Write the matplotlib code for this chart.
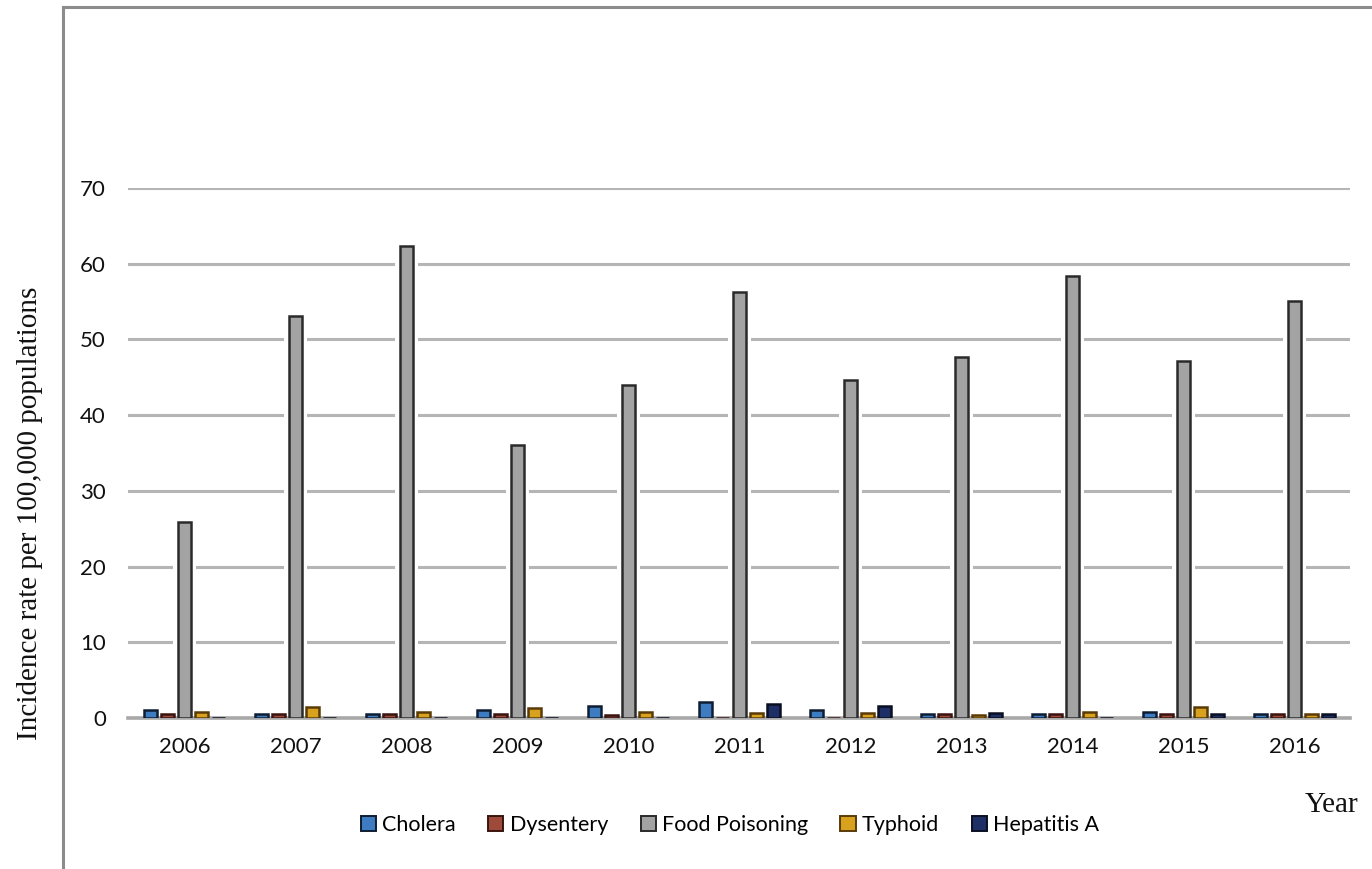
import matplotlib
matplotlib.use("Agg")
import matplotlib.pyplot as plt
import numpy as np
from matplotlib.lines import Line2D
from matplotlib.patches import Patch

years = ["2006", "2007", "2008", "2009", "2010", "2011", "2012", "2013", "2014", "2015", "2016"]
series_names = ["Cholera", "Dysentery", "Food Poisoning", "Typhoid", "Hepatitis A"]
cholera = [1.0, 0.5, 0.5, 1.0, 1.6, 2.1, 1.0, 0.5, 0.5, 0.8, 0.5]
dysentery = [0.5, 0.5, 0.5, 0.5, 0.4, 0.05, 0.05, 0.5, 0.5, 0.5, 0.5]
food_poisoning = [25.9, 53.1, 62.4, 36.0, 44.0, 56.2, 44.7, 47.7, 58.4, 47.2, 55.1]
typhoid = [0.8, 1.4, 0.8, 1.35, 0.8, 0.6, 0.6, 0.4, 0.8, 1.5, 0.5]
hepatitis_a = [0.05, 0.05, 0.05, 0.05, 0.05, 1.9, 1.6, 0.7, 0.05, 0.5, 0.5]
y_ticks = [0, 10, 20, 30, 40, 50, 60, 70]

values = [cholera, dysentery, food_poisoning, typhoid, hepatitis_a]
face = ["#3D7CC0", "#9E4A3A", "#A3A3A3", "#D9A21E", "#1E2F66"]
edge = ["#0F1D33", "#3A1410", "#2A2A2A", "#5A3B08", "#0A0F22"]

W, H = 1372, 869
fig = plt.figure(figsize=(W / 100, H / 100), dpi=100)
fig.patch.set_facecolor("white")

ax = fig.add_axes([128 / W, 1 - 718 / H, (1350 - 128) / W, (718 - 188) / H])
x = np.arange(len(years))
step = 0.152
bw = 0.118

# white halo behind the tall bars (breaks in gridlines like the original)
ax.bar(x, food_poisoning, width=bw + 0.09, color="white", zorder=2, linewidth=0)

for i, (vals, fc, ec) in enumerate(zip(values, face, edge)):
    ax.bar(x + (i - 2) * step, vals, width=bw, color=fc, edgecolor=ec,
           linewidth=1.8, zorder=3, label=series_names[i])

ax.set_xlim(-0.51, 10.5)
ax.set_ylim(0, 70)
ax.set_yticks(y_ticks)
ax.set_xticks(x)
ax.set_xticklabels(years)
ax.grid(axis="y", color="#B5B5B5", linewidth=2.2, zorder=1)
ax.set_axisbelow(True)
for s in ["top", "right", "left"]:
    ax.spines[s].set_visible(False)
ax.spines["bottom"].set_color("#A8A8A8")
ax.spines["bottom"].set_linewidth(2.6)
ax.spines["bottom"].set_zorder(2.5)
ax.tick_params(axis="both", length=0, labelsize=16, colors="#111111")
ax.tick_params(axis="y", pad=16)
ax.tick_params(axis="x", pad=14)
for lab in ax.get_xticklabels() + ax.get_yticklabels():
    lab.set_family("Lato")

# outer frame lines (top and left)
fig.add_artist(Line2D([63 / W, 1.0], [1 - 7 / H, 1 - 7 / H], color="#8C8C8C", linewidth=2.2))
fig.add_artist(Line2D([63 / W, 63 / W], [0, 1 - 7 / H], color="#8C8C8C", linewidth=2.2))

fig.text(30 / W, 1 - 513 / H, "Incidence rate per 100,000 populations", rotation=90,
         ha="center", va="center", family="Liberation Serif", fontsize=21, color="#111111")
fig.text(1332 / W, 1 - 805 / H, "Year", ha="center", va="center",
         family="Liberation Serif", fontsize=21, color="#111111")

handles = [Patch(facecolor=fc, edgecolor=ec, linewidth=1.4) for fc, ec in zip(face, edge)]
leg = fig.legend(handles, series_names, loc="center", bbox_to_anchor=(730 / W, 1 - 825 / H),
                 ncol=5, frameon=False, handlelength=0.7, handleheight=0.7,
                 handletextpad=0.3, columnspacing=1.5, prop={"family": "Lato", "size": 15.5})

fig.savefig("out.png", dpi=100, facecolor="white")
